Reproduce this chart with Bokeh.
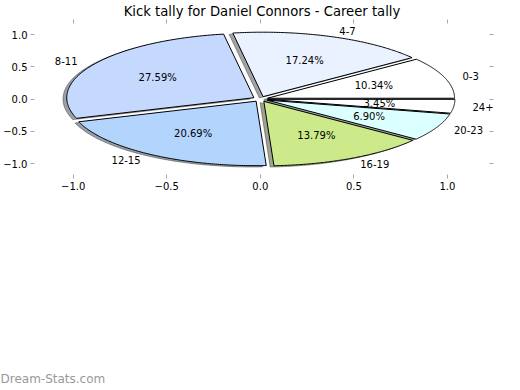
import math
import numpy as np
from bokeh.plotting import figure
from bokeh.models import Range1d, FixedTicker, LinearAxis, Label, ColumnDataSource
from bokeh.core.properties import value, field
from bokeh.embed import file_html
from bokeh.resources import INLINE

# ---- data ----
categories = ["0-3", "4-7", "8-11", "12-15", "16-19", "20-23", "24+"]
kicks = [3, 5, 8, 6, 4, 2, 1]
explode = [0.04, 0.04, 0.04, 0.04, 0.04, 0.04, 0.04]
colors = ["#ffffff", "#eaf1ff", "#c5d8fd", "#b3d4fd", "#cdea8a", "#dcffff", "#ffffff"]
tick_values = [-1.0, -0.5, 0.0, 0.5, 1.0]
tick_labels = ["\u22121.0", "\u22120.5", "0.0", "0.5", "1.0"]
title_text = "Kick tally for Daniel Connors - Career tally"
watermark_text = "Dream-Stats.com"

# ---- geometry of the pie (radius 1, counter-clockwise from 0 degrees) ----
total = float(sum(kicks))
radius = 1.0
shadow_dx, shadow_dy = -0.02, -0.02

wx, wy, sx, sy, scol = [], [], [], [], []
lab_x, lab_y, lab_t, lab_a = [], [], [], []
pct_x, pct_y, pct_t = [], [], []

theta1 = 0.0
for cat, k, ex, col in zip(categories, kicks, explode, colors):
    frac = k / total
    theta2 = theta1 + 360.0 * frac
    thetam = math.radians((theta1 + theta2) / 2.0)
    cx = ex * radius * math.cos(thetam)
    cy = ex * radius * math.sin(thetam)
    angs = np.radians(np.linspace(theta1, theta2, 120))
    xs = [cx] + list(cx + radius * np.cos(angs)) + [cx]
    ys = [cy] + list(cy + radius * np.sin(angs)) + [cy]
    wx.append(xs)
    wy.append(ys)
    sx.append([v + shadow_dx for v in xs])
    sy.append([v + shadow_dy for v in ys])
    r, g, b = int(col[1:3], 16), int(col[3:5], 16), int(col[5:7], 16)
    scol.append("#%02x%02x%02x" % (int(0.3 * r), int(0.3 * g), int(0.3 * b)))
    xt = cx + 1.1 * radius * math.cos(thetam)
    yt = cy + 1.1 * radius * math.sin(thetam)
    lab_x.append(xt)
    lab_y.append(yt)
    lab_t.append(cat)
    lab_a.append("left" if xt > 0 else "right")
    pct_x.append(cx + 0.6 * radius * math.cos(thetam))
    pct_y.append(cy + 0.6 * radius * math.sin(thetam))
    pct_t.append("%.2f%%" % (100.0 * frac))
    theta1 = theta2

# ---- figure ----
p = figure(width=520, height=390,
           x_range=Range1d(-1.228, 1.246), y_range=Range1d(-1.232, 1.234),
           output_backend="svg", toolbar_location=None,
           min_border_left=28, min_border_right=27,
           min_border_top=19, min_border_bottom=212)
p.xgrid.visible = False
p.ygrid.visible = False
p.outline_line_color = None
p.background_fill_color = "white"
p.border_fill_color = "white"

p.title.text = title_text
p.title.align = "center"
p.title.text_font = "DejaVu Sans"
p.title.text_font_size = "13.2px"
p.title.text_font_style = "normal"
p.title.text_color = "black"
p.title.standoff = 1

p.add_layout(LinearAxis(), "above")
p.add_layout(LinearAxis(), "right")


def style_axis(ax, show_labels):
    ax.ticker = FixedTicker(ticks=tick_values)
    ax.axis_line_color = None
    ax.major_tick_in = 4
    ax.major_tick_out = 0
    ax.major_tick_line_color = "#a8a8a8"
    ax.major_tick_line_width = 1
    ax.minor_tick_line_color = None
    ax.major_label_text_font = "DejaVu Sans"
    ax.major_label_text_color = "black"
    if show_labels:
        ax.major_label_text_font_size = "10px"
        ax.major_label_overrides = dict(zip(tick_values, tick_labels))
        ax.major_label_standoff = 3
    else:
        ax.major_label_text_font_size = "0px"
        ax.major_label_overrides = {t: "" for t in tick_values}
        ax.major_label_standoff = 0


style_axis(p.below[0], True)
style_axis(p.left[0], True)
style_axis(p.above[0], False)
style_axis(p.right[0], False)

# shadows first (below every wedge)
p.patches(xs=sx, ys=sy, fill_color=scol, fill_alpha=0.5,
          line_color=scol, line_alpha=0.5, line_width=1)
# wedges
p.patches(xs=wx, ys=wy, fill_color=colors, line_color="black", line_width=1)

lab_src = ColumnDataSource(dict(x=lab_x, y=lab_y, text=lab_t, align=lab_a))
p.text(x="x", y="y", text="text", source=lab_src,
       text_font=value("DejaVu Sans"), text_font_size=value("10px"),
       text_align=field("align"), text_baseline="middle", text_color="black")

pct_src = ColumnDataSource(dict(x=pct_x, y=pct_y, text=pct_t))
p.text(x="x", y="y", text="text", source=pct_src,
       text_font=value("DejaVu Sans"), text_font_size=value("10px"),
       text_align="center", text_baseline="middle", text_color="black")

p.add_layout(Label(x=-30, y=-172, x_units="screen", y_units="screen",
                   text=watermark_text, text_font="DejaVu Sans",
                   text_font_size="12px", text_align="left",
                   text_baseline="middle", text_color="#999999"), "below")

open("out.html", "w").write(file_html(p, INLINE))
